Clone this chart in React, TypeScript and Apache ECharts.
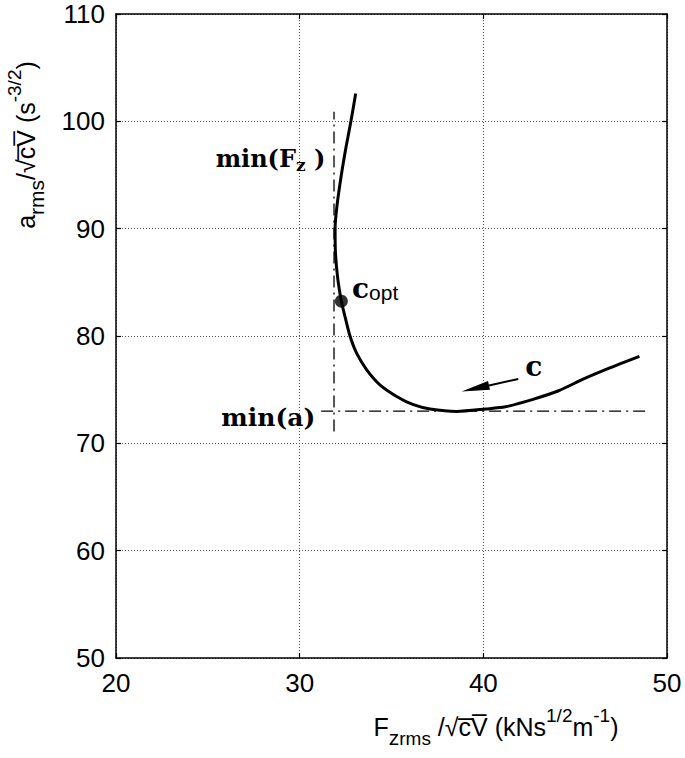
import React, { useEffect, useRef } from "react";
import * as echarts from "echarts";

// Curve c (F_z_rms/sqrt(cV), a_rms/sqrt(cV))
const curveF = [33.05, 32.8, 32.53, 32.26, 32.03, 31.93, 31.95, 32.08, 32.27, 32.47, 32.74, 33.1, 33.65, 34.37, 35.28, 36.19, 37.1, 38.55, 40.15, 41.2, 42.7, 44.1, 45.4, 46.85, 48.5];
const curveA = [102.6, 100.1, 97.65, 94.9, 92.1, 90.07, 87.7, 85.25, 83.24, 81.8, 80.0, 78.4, 76.85, 75.45, 74.37, 73.6, 73.2, 72.97, 73.2, 73.4, 74.1, 74.9, 75.95, 77.0, 78.1];

// Optimum point
const optPoint = [32.27, 83.24];

// Reference lines
const minFz = 31.87;
const minFzSpan = [71.1, 100.9];
const minA = 73.0;
const minASpan = [31.17, 48.9];

// Axes
const xMin = 20, xMax = 50, xStep = 10;
const yMin = 50, yMax = 110, yStep = 10;

// Annotation anchors (data coords)
const minFzLabelAt = [31.4, 96.5];
const minALabelAt = [30.85, 72.4];
const coptLabelAt = [32.85, 84.4];
const cLabelAt = [42.75, 77.2];
const arrowFrom = [41.9, 76.0];
const arrowTo = [38.82, 74.83];

const SANS = "'Liberation Sans', Arial, Helvetica, sans-serif";
const SERIF = "'DejaVu Serif', serif";

export default function App() {
  const ref = useRef<HTMLDivElement>(null);
  useEffect(() => {
    if (!ref.current) return;
    const chart = echarts.init(ref.current, undefined, { renderer: "svg" });
    const dotted = { show: true, lineStyle: { color: "#555", width: 1, type: [1, 2] as any } };
    const axisLine = { show: true, onZero: false, lineStyle: { color: "#000", width: 1.5 } };
    const tick = { show: true, inside: true, length: 5, lineStyle: { color: "#000", width: 1.2 } };
    const dashDot = [12, 5, 2, 5];
    chart.setOption({
      animation: false,
      backgroundColor: "#fff",
      grid: { left: 116, right: 18, top: 14, bottom: 100, containLabel: false },
      xAxis: [
        {
          type: "value", min: xMin, max: xMax, interval: xStep, position: "bottom",
          axisLine, axisTick: tick, splitLine: dotted,
          axisLabel: { fontFamily: SANS, fontSize: 26, color: "#000", margin: 12 },
        },
        {
          type: "value", min: xMin, max: xMax, interval: xStep, position: "top",
          axisLine, axisTick: tick, splitLine: { show: false }, axisLabel: { show: false },
        },
      ],
      yAxis: [
        {
          type: "value", min: yMin, max: yMax, interval: yStep, position: "left",
          axisLine, axisTick: tick, splitLine: dotted,
          axisLabel: { fontFamily: SANS, fontSize: 26, color: "#000", margin: 11 },
        },
        {
          type: "value", min: yMin, max: yMax, interval: yStep, position: "right",
          axisLine, axisTick: tick, splitLine: { show: false }, axisLabel: { show: false },
        },
      ],
      series: [
        {
          type: "line", xAxisIndex: 0, yAxisIndex: 0,
          data: [[minFz, minFzSpan[0]], [minFz, minFzSpan[1]]],
          showSymbol: false, silent: true,
          lineStyle: { color: "#000", width: 1.3, type: dashDot },
        },
        {
          type: "line", xAxisIndex: 0, yAxisIndex: 0,
          data: [[minASpan[0], minA], [minASpan[1], minA]],
          showSymbol: false, silent: true,
          lineStyle: { color: "#000", width: 1.3, type: dashDot },
        },
        {
          type: "line", xAxisIndex: 0, yAxisIndex: 0,
          data: curveF.map((f, i) => [f, curveA[i]]),
          showSymbol: false, smooth: 0.25, silent: true,
          lineStyle: { color: "#000", width: 3 },
        },
        {
          type: "scatter", xAxisIndex: 0, yAxisIndex: 0,
          data: [optPoint], symbol: "circle", symbolSize: 13,
          itemStyle: { color: "#000" }, silent: true,
        },
      ],
    });

    const p = (pt: number[]) => chart.convertToPixel({ gridIndex: 0 }, pt) as number[];
    const a1 = p(arrowFrom), a2 = p(arrowTo);
    const dx = a2[0] - a1[0], dy = a2[1] - a1[1];
    const len = Math.hypot(dx, dy);
    const ux = dx / len, uy = dy / len;
    const hl = 28, hw = 4.5;
    const bx = a2[0] - ux * hl, by = a2[1] - uy * hl;
    const nx = -uy, ny = ux;

    const fz = p(minFzLabelAt), ma = p(minALabelAt), co = p(coptLabelAt), cl = p(cLabelAt);

    const titleRich = {
      m: { fontFamily: SANS, fontSize: 25, lineHeight: 25, verticalAlign: "middle", fill: "#000" },
      sup: { fontFamily: SANS, fontSize: 19, verticalAlign: "top", fill: "#000" },
      sub: { fontFamily: SANS, fontSize: 21, verticalAlign: "bottom", fill: "#000" },
      sub2: { fontFamily: SANS, fontSize: 19, verticalAlign: "bottom", fill: "#000" },
      h: { fontFamily: SANS, fontSize: 25, lineHeight: 42, verticalAlign: "middle", fill: "#000" },
    };

    chart.setOption({
      graphic: [
        {
          type: "text", x: 496, y: 727,
          style: {
            text: "{h|}{m|F}{sub|z}{sub2|rms}{m| /\u221Ac\u0305V\u0305 (kNs}{sup|1/2}{m|m}{sup|-1}{m|)}",
            rich: titleRich, align: "center", verticalAlign: "middle",
          },
        },
        {
          type: "text", x: 26, y: 145, rotation: Math.PI / 2,
          style: {
            text: "{h|}{m|a}{sub|rms}{m|/\u221Ac\u0305V\u0305 (s}{sup|-3/2}{m|)}",
            rich: titleRich, align: "center", verticalAlign: "middle",
          },
        },
        {
          type: "text", x: fz[0], y: fz[1],
          style: {
            text: "{b|min(F}{bs|z}{b| )}",
            rich: {
              b: { fontFamily: SERIF, fontWeight: "bold", fontSize: 24, lineHeight: 30, verticalAlign: "middle", fill: "#000" },
              bs: { fontFamily: SERIF, fontWeight: "bold", fontSize: 17, lineHeight: 20, verticalAlign: "bottom", fill: "#000" },
            },
            align: "right", verticalAlign: "middle",
          },
        },
        {
          type: "text", x: ma[0], y: ma[1],
          style: {
            text: "min(a)", fontFamily: SERIF, fontWeight: "bold", fontSize: 25,
            fill: "#000", align: "right", verticalAlign: "middle",
          },
        },
        {
          type: "text", x: co[0], y: co[1],
          style: {
            text: "{c|c}{o|opt}",
            rich: {
              c: { fontFamily: SERIF, fontWeight: "bold", fontSize: 28, lineHeight: 28, verticalAlign: "top", fill: "#000" },
              o: { fontFamily: SANS, fontSize: 21, lineHeight: 24, verticalAlign: "bottom", fill: "#000" },
            },
            align: "left", verticalAlign: "middle",
          },
        },
        {
          type: "text", x: cl[0], y: cl[1],
          style: {
            text: "c", fontFamily: SERIF, fontWeight: "bold", fontSize: 28,
            fill: "#000", align: "center", verticalAlign: "middle",
          },
        },
        {
          type: "line",
          shape: { x1: a1[0], y1: a1[1], x2: bx, y2: by },
          style: { stroke: "#000", lineWidth: 2 },
        },
        {
          type: "polygon",
          shape: { points: [[a2[0], a2[1]], [bx + nx * hw, by + ny * hw], [bx - nx * hw, by - ny * hw]] },
          style: { fill: "#000" },
        },
      ],
    });

    return () => chart.dispose();
  }, []);
  return (
    <div
      ref={ref}
      style={{ position: "absolute", left: 0, top: 0, width: 685, height: 758, background: "#fff" }}
    />
  );
}
